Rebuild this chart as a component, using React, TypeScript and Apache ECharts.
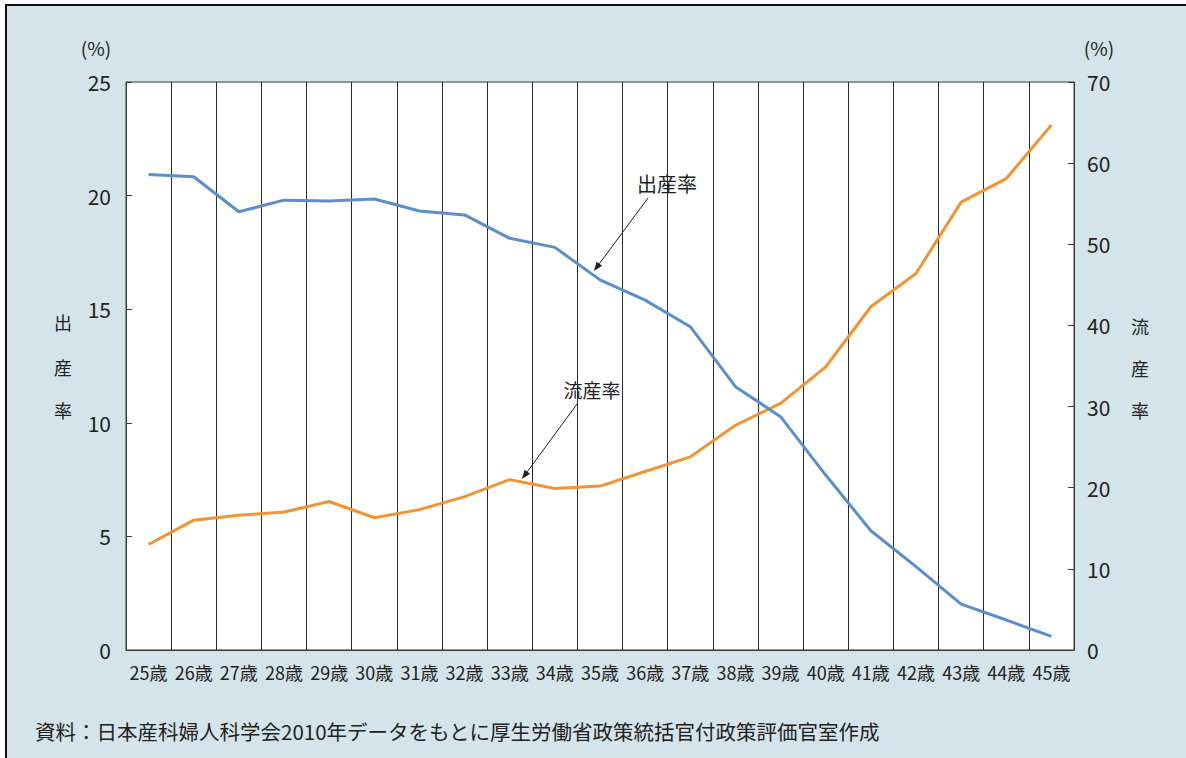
import React, { useEffect, useRef } from "react";
import * as echarts from "echarts";

const categories = [
  "25歳", "26歳", "27歳", "28歳", "29歳", "30歳", "31歳", "32歳", "33歳", "34歳", "35歳",
  "36歳", "37歳", "38歳", "39歳", "40歳", "41歳", "42歳", "43歳", "44歳", "45歳",
];
// 出産率 (left axis, %)
const birthRate = [
  20.93, 20.83, 19.29, 19.8, 19.76, 19.85, 19.32, 19.15, 18.12, 17.72, 16.29,
  15.4, 14.23, 11.59, 10.27, 7.7, 5.25, 3.67, 2.02, 1.32, 0.6,
];
// 流産率 (right axis, %)
const miscarriageRate = [
  13.0, 16.0, 16.6, 17.0, 18.3, 16.3, 17.3, 18.9, 21.0, 19.9, 20.2,
  22.0, 23.8, 27.7, 30.4, 34.9, 42.3, 46.4, 55.2, 58.1, 64.7,
];
const leftTicks = { min: 0, max: 25, interval: 5 };
const rightTicks = { min: 0, max: 70, interval: 10 };
const sourceText = "資料：日本産科婦人科学会2010年データをもとに厚生労働省政策統括官付政策評価官室作成";

const FONT = "'Noto Sans CJK JP', 'Noto Sans', sans-serif";
const TEXT = "#222222";

function arrow(x1: number, y1: number, x2: number, y2: number) {
  const dx = x2 - x1, dy = y2 - y1;
  const len = Math.sqrt(dx * dx + dy * dy);
  const ux = dx / len, uy = dy / len;
  const hl = 9, hw = 3.5;
  const bx = x2 - ux * hl, by = y2 - uy * hl;
  return [
    { type: "line", shape: { x1, y1, x2: bx, y2: by }, style: { stroke: "#222", lineWidth: 1 }, z: 20 },
    {
      type: "polygon",
      shape: { points: [[x2, y2], [bx - uy * hw, by + ux * hw], [bx + uy * hw, by - ux * hw]] },
      style: { fill: "#222" },
      z: 20,
    },
  ];
}

function label(text: string, x: number, y: number, size: number, align = "center") {
  return {
    type: "text", x, y, z: 20,
    style: { text, fill: TEXT, font: `${size}px ${FONT}`, textAlign: align, textVerticalAlign: "middle" },
  };
}

export default function App() {
  const ref = useRef<HTMLDivElement>(null);
  useEffect(() => {
    if (!ref.current) return;
    const chart = echarts.init(ref.current, null, { renderer: "svg" });
    chart.setOption({
      animation: false,
      backgroundColor: "#ffffff",
      textStyle: { fontFamily: FONT },
      grid: {
        left: 126, top: 82, width: 948, height: 568,
        show: true, backgroundColor: "#ffffff", borderColor: "#3a3a3a", borderWidth: 1,
      },
      xAxis: {
        type: "category",
        data: categories,
        boundaryGap: true,
        axisLine: { show: true, lineStyle: { color: "#3a3a3a", width: 1 } },
        axisTick: { show: false },
        splitLine: { show: true, interval: 0, lineStyle: { color: "#2a2a2a", width: 1 } },
        axisLabel: { interval: 0, color: TEXT, fontSize: 18, margin: 13, fontFamily: FONT },
      },
      yAxis: [
        {
          type: "value",
          ...leftTicks,
          position: "left",
          axisLine: { show: true, lineStyle: { color: "#3a3a3a" } },
          axisTick: { show: true, inside: true, length: 6, lineStyle: { color: "#3a3a3a" } },
          splitLine: { show: false },
          axisLabel: { color: TEXT, fontSize: 21, margin: 15, fontFamily: FONT },
        },
        {
          type: "value",
          ...rightTicks,
          position: "right",
          axisLine: { show: true, lineStyle: { color: "#3a3a3a" } },
          axisTick: { show: true, inside: true, length: 6, lineStyle: { color: "#3a3a3a" } },
          splitLine: { show: false },
          axisLabel: { color: TEXT, fontSize: 21, margin: 13, fontFamily: FONT },
        },
      ],
      series: [
        {
          name: "出産率",
          type: "line",
          yAxisIndex: 0,
          data: birthRate,
          symbol: "none",
          lineStyle: { color: "#5b8fcb", width: 3 },
          z: 5,
        },
        {
          name: "流産率",
          type: "line",
          yAxisIndex: 1,
          data: miscarriageRate,
          symbol: "none",
          lineStyle: { color: "#f39331", width: 3 },
          z: 4,
        },
      ],
      graphic: [
        {
          type: "rect",
          shape: { x: 6, y: 5, width: 1220, height: 800 },
          style: { fill: "#d5e3ea", stroke: "#111", lineWidth: 2 },
          z: -100,
          silent: true,
        },
        label("(%)", 96, 47, 19),
        label("(%)", 1099, 47, 19),
        label("出", 63, 322, 18),
        label("産", 63, 367, 18),
        label("率", 63, 410, 18),
        label("流", 1140, 326, 18),
        label("産", 1140, 368, 18),
        label("率", 1140, 410, 18),
        label("出産率", 667, 183, 20),
        label("流産率", 592, 389, 19),
        ...arrow(648, 198, 594, 271),
        ...arrow(577, 404, 522, 479),
        label(sourceText, 35, 731, 20.5, "left"),
      ],
    });
    return () => chart.dispose();
  }, []);
  return (
    <div
      ref={ref}
      style={{ position: "absolute", left: 0, top: 0, width: 1186, height: 758 }}
    />
  );
}
